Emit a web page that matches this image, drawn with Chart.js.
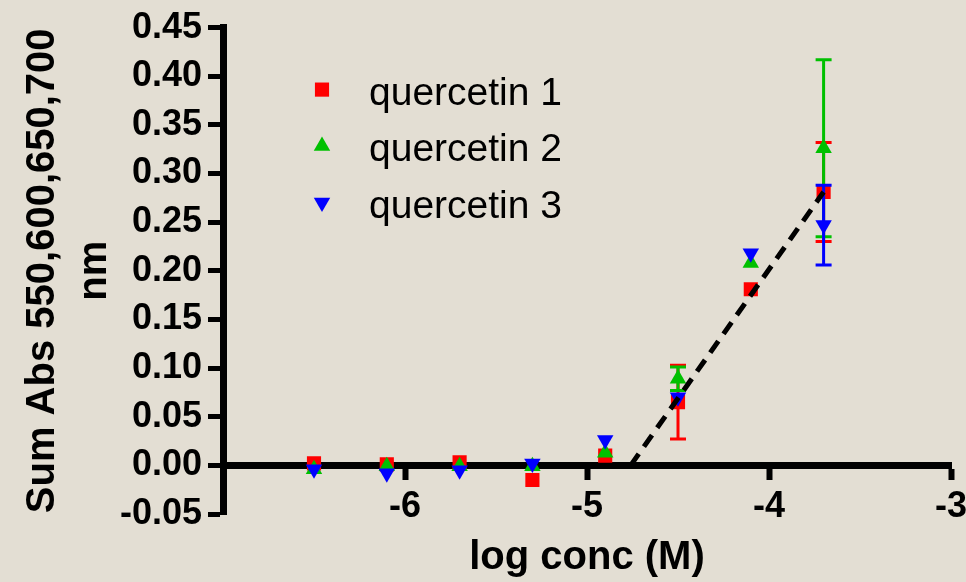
<!DOCTYPE html>
<html>
<head>
<meta charset="utf-8">
<script src="https://cdn.jsdelivr.net/npm/chart.js@4.4.1/dist/chart.umd.min.js"></script>
<style>
  html, body { margin: 0; padding: 0; background: #e3ded3; }
  #wrap { width: 966px; height: 582px; }
  canvas { display: block; }
</style>
</head>
<body>
<div id="wrap"><canvas id="c" width="966" height="582"></canvas></div>
<script>
// ---- data ----
const logConc = [-6.5, -6.1, -5.7, -5.3, -4.9, -4.5, -4.1, -3.7];
const quercetin1 = [0.002, 0.001, 0.003, -0.015, 0.010, 0.065, 0.181, 0.281];
const quercetin1Err = [0, 0, 0, 0, 0, 0.038, 0, 0.051];
const quercetin2 = [-0.004, -0.001, -0.001, -0.001, 0.013, 0.089, 0.208, 0.326];
const quercetin2Err = [0, 0, 0, 0, 0, 0.012, 0, 0.091];
const quercetin3 = [-0.004, -0.008, -0.005, 0.002, 0.026, 0.070, 0.218, 0.247];
const quercetin3Err = [0, 0, 0, 0, 0, 0, 0, 0.041];
const fitX = [-4.76, -3.70];
const fitY = [0.0, 0.281];
const seriesNames = ['quercetin 1', 'quercetin 2', 'quercetin 3'];
const xTitle = 'log conc (M)';
const yTitle = ['Sum Abs 550,600,650,700', 'nm'];

const toPts = (xs, ys) => xs.map((x, i) => ({ x: x, y: ys[i] }));

const FONT = "'Liberation Sans', Arial, Helvetica, sans-serif";
Chart.defaults.font.family = FONT;
Chart.defaults.color = '#000';

const errorBars = {
  id: 'errorBars',
  beforeDatasetDraw(chart, args) {
    const ds = chart.data.datasets[args.index];
    if (!ds.errors) return;
    const ctx = chart.ctx, ys = chart.scales.y;
    ctx.save();
    ctx.strokeStyle = ds.backgroundColor;
    ctx.lineWidth = 3;
    args.meta.data.forEach((pt, i) => {
      const e = ds.errors[i];
      if (!e) return;
      const v = ds.data[i].y;
      const t = ys.getPixelForValue(v + e), b = ys.getPixelForValue(v - e);
      ctx.beginPath();
      ctx.moveTo(pt.x, t); ctx.lineTo(pt.x, b);
      ctx.moveTo(pt.x - 8, t); ctx.lineTo(pt.x + 8, t);
      ctx.moveTo(pt.x - 8, b); ctx.lineTo(pt.x + 8, b);
      ctx.stroke();
    });
    ctx.restore();
  }
};

const sideLegend = {
  id: 'sideLegend',
  afterDatasetsDraw(chart) {
    const { ctx, chartArea } = chart;
    seriesNames.forEach((name, i) => {
      const ds = chart.data.datasets.find(d => d.label === name);
      const cx = chartArea.left + 99;
      const cy = chartArea.top + 62 + i * 56.5;
      ctx.save();
      ctx.fillStyle = ds.backgroundColor;
      Chart.helpers.drawPoint(ctx, {
        pointStyle: ds.pointStyle, radius: ds.pointRadius,
        rotation: ds.pointRotation || 0, borderWidth: 0
      }, cx, cy);
      ctx.fillStyle = '#000';
      ctx.font = "39px " + FONT;
      ctx.textAlign = 'left';
      ctx.textBaseline = 'alphabetic';
      ctx.fillText(name, chartArea.left + 146, cy + 15);
      ctx.restore();
    });
  }
};

const bgPlugin = {
  id: 'bg',
  beforeDraw(chart) {
    const ctx = chart.ctx;
    ctx.save();
    ctx.fillStyle = '#e3ded3';
    ctx.fillRect(0, 0, chart.width, chart.height);
    ctx.restore();
  }
};

new Chart(document.getElementById('c'), {
  type: 'scatter',
  data: {
    datasets: [
      {
        label: 'fit', data: toPts(fitX, fitY), showLine: true,
        borderColor: '#000', borderWidth: 5, borderDash: [14, 9],
        pointRadius: 0, pointHoverRadius: 0, fill: false
      },
      {
        label: seriesNames[2], data: toPts(logConc, quercetin3), errors: quercetin3Err,
        backgroundColor: '#0000ff', borderColor: '#0000ff', borderWidth: 0,
        pointStyle: 'triangle', pointRotation: 180, pointRadius: 9.5, pointBorderWidth: 0
      },
      {
        label: seriesNames[1], data: toPts(logConc, quercetin2), errors: quercetin2Err,
        backgroundColor: '#00c000', borderColor: '#00c000', borderWidth: 0,
        pointStyle: 'triangle', pointRadius: 9.5, pointBorderWidth: 0
      },
      {
        label: seriesNames[0], data: toPts(logConc, quercetin1), errors: quercetin1Err,
        backgroundColor: '#ff0000', borderColor: '#ff0000', borderWidth: 0,
        pointStyle: 'rect', pointRadius: 10, pointBorderWidth: 0
      }
    ]
  },
  options: {
    responsive: false,
    animation: false,
    devicePixelRatio: 1,
    layout: { padding: { left: 0, right: 15, top: 26, bottom: 0 } },
    plugins: { legend: { display: false }, tooltip: { enabled: false } },
    scales: {
      x: {
        type: 'linear', position: 'bottom', min: -7, max: -3,
        ticks: { display: false },
        grid: { display: false, drawTicks: false },
        border: { display: false },
        title: {
          display: true, text: xTitle, color: '#000',
          font: { size: 40, weight: 'bold' }, padding: { top: 0, bottom: 0 }
        },
        afterFit: (s) => { s.height = 68; s.paddingLeft = 0; s.paddingRight = 0; }
      },
      x2: {
        type: 'linear', axis: 'x', position: { y: 0 }, min: -7, max: -3,
        ticks: {
          stepSize: 1, padding: 9, color: '#000', maxRotation: 0,
          font: { size: 36, weight: 'bold' },
          callback: (v) => (v === -7 ? '' : String(v))
        },
        grid: { drawOnChartArea: false, tickLength: 11, tickWidth: 6, tickColor: '#000' },
        border: { display: true, color: '#000', width: 7 },
        afterFit: (s) => { s.height = 0; s.paddingLeft = 0; s.paddingRight = 0; }
      },
      y: {
        type: 'linear', position: 'left', min: -0.05, max: 0.45,
        ticks: {
          stepSize: 0.05, padding: 6, color: '#000',
          font: { size: 36, weight: 'bold' },
          callback: (v) => (Math.abs(v) < 1e-9 ? '0.00' : v.toFixed(2))
        },
        grid: { drawOnChartArea: false, tickLength: 15, tickWidth: 5, tickColor: '#000' },
        border: { display: true, color: '#000', width: 7 },
        title: {
          display: true, text: yTitle, color: '#000',
          font: { size: 40, weight: 'bold', lineHeight: 1.3 }, padding: { top: 17, bottom: 0 }
        },
        afterFit: (s) => { s.width = 223; }
      }
    }
  },
  plugins: [bgPlugin, errorBars, sideLegend]
});
</script>
</body>
</html>
